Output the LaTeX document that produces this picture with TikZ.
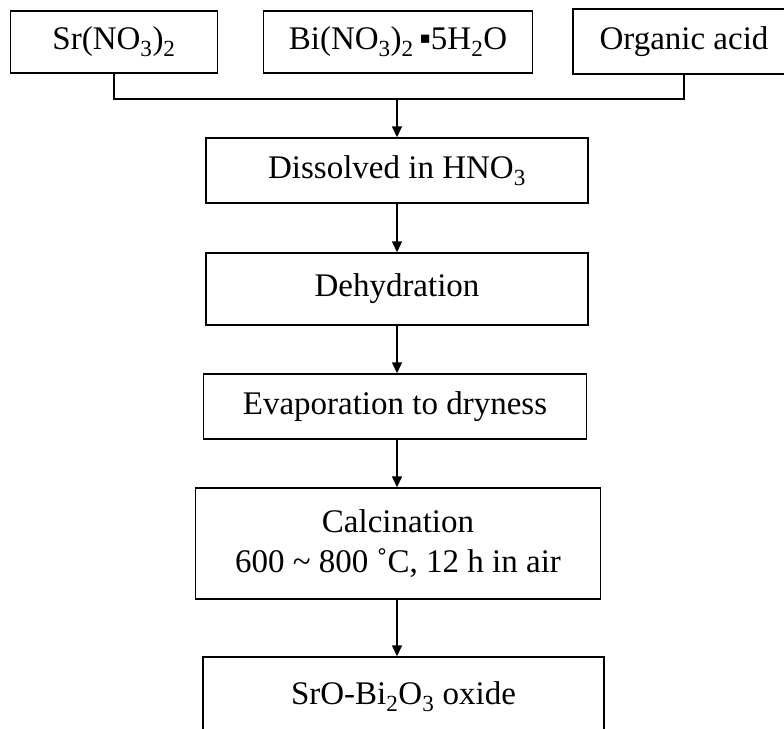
\documentclass[tikz,border=0pt]{standalone}
\usepackage{fontspec}
\setmainfont{Liberation Serif}
\usetikzlibrary{arrows.meta}

\begin{document}
\begin{tikzpicture}[x=1pt,y=-1pt,
    box/.style={draw,line width=1.4pt,inner sep=2pt,align=center,font=\fontsize{33}{40}\selectfont},
    arr/.style={line width=1.4pt,-{Triangle[length=11pt,width=10pt]}}]
    \useasboundingbox (0,0) rectangle (784,728);

    % starting materials
    \node[box,minimum width=207pt,minimum height=62pt] (sr) at (114,42) {Sr(NO\textsubscript{3})\textsubscript{2}};
    \node[box,minimum width=269pt,minimum height=62pt] (bi) at (398,42) {Bi(NO\textsubscript{3})\textsubscript{2}\,▪5H\textsubscript{2}O};
    \node[box,minimum width=222pt,minimum height=65pt] (org) at (684,41.5) {Organic acid};
    \coordinate (join) at (397,99);
    \draw[line width=1.4pt] (sr.south) |- (join) -| (org.south);

    % process steps
    \node[box,minimum width=382pt,minimum height=65pt] (dis) at (397,170.5) {Dissolved in HNO\textsubscript{3}};
    \node[box,minimum width=382pt,minimum height=72pt] (deh) at (397,289) {Dehydration};
    \node[box,minimum width=383pt,minimum height=65pt] (eva) at (395,406.5) {Evaporation to dryness};
    \node[box,minimum width=405pt,minimum height=111pt] (cal) at (398,543.5) {Calcination\\600 \textasciitilde{} 800 ˚C, 12 h in air};
    \node[box,minimum width=401pt,minimum height=80pt] (oxi) at (403.5,697) {SrO-Bi\textsubscript{2}O\textsubscript{3} oxide};

    \draw[arr] (join) -- (join |- dis.north);
    \draw[arr] (dis.south) -- (dis.south |- deh.north);
    \draw[arr] (deh.south) -- (deh.south |- eva.north);
    \draw[arr] (deh.south |- eva.south) -- (deh.south |- cal.north);
    \draw[arr] (deh.south |- cal.south) -- (deh.south |- oxi.north);
\end{tikzpicture}
\end{document}
